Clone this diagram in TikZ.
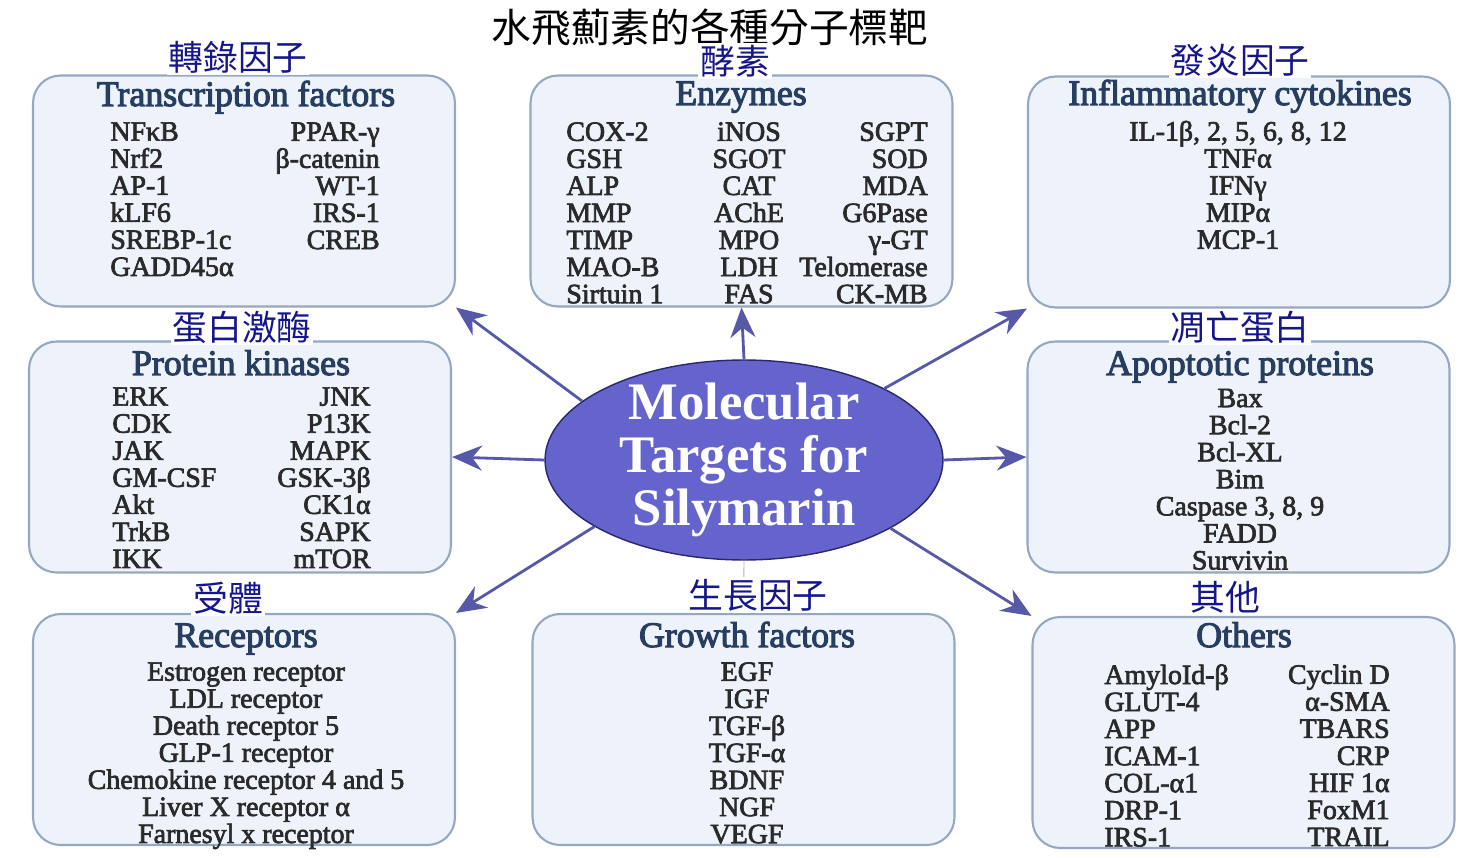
\documentclass[tikz,border=0pt]{standalone}
\usepackage{fontspec}
\setmainfont{Liberation Serif}
\newfontfamily\headfont[FakeBold=3]{Liberation Serif}
\newfontfamily\itemfont[FakeBold=2.5]{Liberation Serif}
\newfontfamily\zhfont{Noto Sans CJK TC}
\usetikzlibrary{shapes}
\usetikzlibrary{arrows.meta}
\definecolor{boxfill}{RGB}{238,243,251}
\definecolor{boxline}{RGB}{150,168,192}
\definecolor{headblue}{RGB}{40,62,96}
\definecolor{itemgray}{RGB}{42,42,42}
\definecolor{zhblue}{RGB}{22,22,140}
\definecolor{corefill}{RGB}{100,100,204}
\definecolor{coreline}{RGB}{40,40,110}
\definecolor{arrowblue}{RGB}{88,88,168}
\definecolor{faintline}{RGB}{175,175,190}
\tikzset{
	catbox/.style = {
		rectangle,
		rounded corners=0.55cm,
		draw=boxline,
		fill=boxfill,
		line width=1.2pt,
		minimum width=8.44cm,
		minimum height=4.62cm,
		inner sep=0pt
	},
	cathead/.style = {
		inner sep=0pt,
		text=headblue,
		font=\headfont\fontsize{20.4}{22}\selectfont,
		anchor=base
	},
	catitem/.style = {
		inner sep=0pt,
		text=itemgray,
		font=\itemfont\fontsize{15.9}{15.4}\selectfont
	},
	col_l/.style = {catitem, align=left, anchor=north west},
	col_c/.style = {catitem, align=center, anchor=north},
	col_r/.style = {catitem, align=right, anchor=north east},
	zhlabel/.style = {
		inner sep=1pt,
		fill=white,
		text=zhblue,
		font=\zhfont\fontsize{19.8}{22}\selectfont
	},
	core/.style = {
		ellipse,
		draw=coreline,
		fill=corefill,
		line width=0.8pt,
		minimum width=7.96cm,
		minimum height=4.0cm
	},
	coretext/.style = {
		align=center,
		inner sep=0pt,
		text=white,
		font=\bfseries\fontsize{30}{30.2}\selectfont
	},
	toarrow/.style = {
		-{Stealth[length=0.6cm, width=0.5cm]},
		draw=arrowblue,
		line width=1.6pt
	},
	toarrow_faint/.style = {
		-{Stealth[length=0.12cm, width=0.1cm]},
		draw=faintline,
		line width=0.5pt
	}
}
\begin{document}
\begin{tikzpicture}[x=0.02cm, y=-0.02cm]
\useasboundingbox (0,0) rectangle (1478,858);

% category boxes
\node [catbox] (tf) at (244,191) {};
\node [catbox] (enz) at (741.5,191) {};
\node [catbox] (infl) at (1239,192) {};
\node [catbox] (pk) at (240,457) {};
\node [catbox] (apo) at (1238.5,457) {};
\node [catbox] (rec) at (244,729.5) {};
\node [catbox] (gro) at (743.5,729.5) {};
\node [catbox] (oth) at (1243.5,732.5) {};

% centre
\node [core] (core) at (744,460) {};
\node [coretext] (core_text) at (core.center) {Molecular\\Targets for\\Silymarin};

\draw [toarrow_faint] (core.south) -- (gro.north);

% chinese labels
\node [font=\zhfont\fontsize{22.6}{24}\selectfont, inner sep=0pt] (title) at (710,27) {水飛薊素的各種分子標靶};
\node [zhlabel] (tf_zh) at (238,57) {轉錄因子};
\node [zhlabel] (enz_zh) at (735,61) {酵素};
\node [zhlabel] (infl_zh) at (1240,60) {發炎因子};
\node [zhlabel] (pk_zh) at (242,327) {蛋白激酶};
\node [zhlabel] (apo_zh) at (1240,327) {凋亡蛋白};
\node [zhlabel] (rec_zh) at (228,598) {受體};
\node [zhlabel] (gro_zh) at (758,595) {生長因子};
\node [zhlabel] (oth_zh) at (1225,597) {其他};

% headings
\node [cathead] (tf_head) at (246,106) {Transcription factors};
\node [cathead] (enz_head) at (741,105) {Enzymes};
\node [cathead] (infl_head) at (1240,105) {Inflammatory cytokines};
\node [cathead] (pk_head) at (241,375) {Protein kinases};
\node [cathead] (apo_head) at (1240,375) {Apoptotic proteins};
\node [cathead] (rec_head) at (246,647) {Receptors};
\node [cathead] (gro_head) at (747,647) {Growth factors};
\node [cathead] (oth_head) at (1244,647) {Others};

% item lists
\node [col_l] (tf_l) at (110,122) {NFκB\\Nrf2\\AP-1\\kLF6\\SREBP-1c\\GADD45α};
\node [col_r] (tf_r) at (380,122) {PPAR-γ\\β-catenin\\WT-1\\IRS-1\\CREB};

\node [col_l] (enz_l) at (566,122) {COX-2\\GSH\\ALP\\MMP\\TIMP\\MAO-B\\Sirtuin 1};
\node [col_c] (enz_c) at (749,122) {iNOS\\SGOT\\CAT\\AChE\\MPO\\LDH\\FAS};
\node [col_r] (enz_r) at (928,122) {SGPT\\SOD\\MDA\\G6Pase\\γ-GT\\Telomerase\\CK-MB};

\node [col_c] (infl_c) at (1238,120.5) {IL-1β, 2, 5, 6, 8, 12\\TNFα\\IFNγ\\MIPα\\MCP-1};

\node [col_l] (pk_l) at (112,387) {ERK\\CDK\\JAK\\GM-CSF\\Akt\\TrkB\\IKK};
\node [col_r] (pk_r) at (371,387) {JNK\\P13K\\MAPK\\GSK-3β\\CK1α\\SAPK\\mTOR};

\node [col_c] (apo_c) at (1240,388.5) {Bax\\Bcl-2\\Bcl-XL\\Bim\\Caspase 3, 8, 9\\FADD\\Survivin};

\node [col_c] (rec_c) at (246,662) {Estrogen receptor\\LDL receptor\\Death receptor 5\\GLP-1 receptor\\Chemokine receptor 4 and 5\\Liver X receptor α\\Farnesyl x receptor};

\node [col_c] (gro_c) at (747,662) {EGF\\IGF\\TGF-β\\TGF-α\\BDNF\\NGF\\VEGF};

\node [col_l] (oth_l) at (1104,664) {AmyloId-β\\GLUT-4\\APP\\ICAM-1\\COL-α1\\DRP-1\\IRS-1};
\node [col_r] (oth_r) at (1390,664) {Cyclin D\\α-SMA\\TBARS\\CRP\\HIF 1α\\FoxM1\\TRAIL};

% connectors
\draw [toarrow] (core.160) -- (tf.south east);
\draw [toarrow] (core.north) -- (enz.south);
\draw [toarrow] (core.27) -- (infl.south west);
\draw [toarrow] (core.west) -- (pk.east);
\draw [toarrow] (core.east) -- (apo.west);
\draw [toarrow] (core.204) -- (rec.north east);
\draw [toarrow] (core.335) -- (oth.north west);
\end{tikzpicture}
\end{document}
